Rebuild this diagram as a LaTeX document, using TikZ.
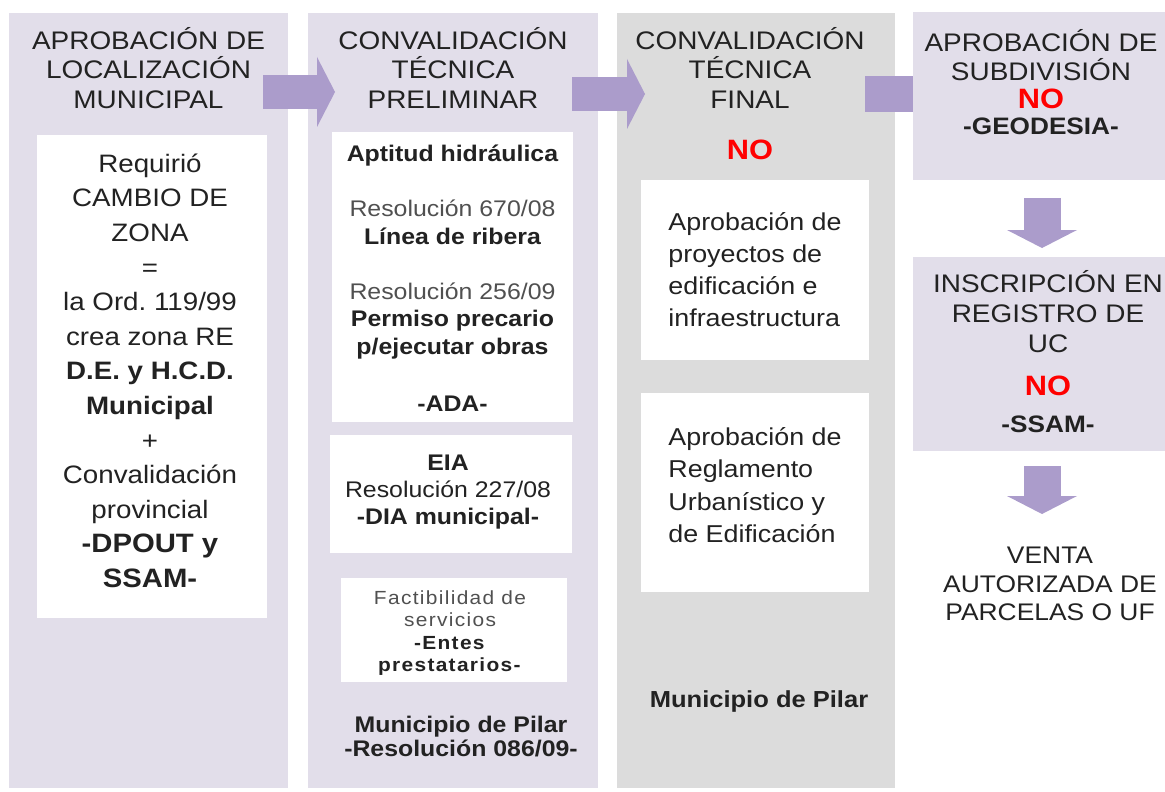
\documentclass[tikz,border=0pt]{standalone}
\usepackage{fontspec}
\setmainfont{Liberation Sans}[FakeStretch=1.1]
\usepackage{tikz}
\usetikzlibrary{arrows.meta,positioning}
\frenchspacing
\definecolor{stagelilac}{HTML}{E2DEEA}
\definecolor{stagegray}{HTML}{DCDCDC}
\definecolor{flowlilac}{HTML}{AB9CCB}
\definecolor{inkdark}{HTML}{222222}
\definecolor{inkgray}{HTML}{505050}
\definecolor{nored}{HTML}{FF0000}
\tikzset{
  stagebox/.style={
    rectangle,
    fill=stagelilac,
    anchor=north west,
    inner sep=0pt,
    outer sep=0pt
  },
  cardbox/.style={
    rectangle,
    fill=white,
    anchor=north west,
    inner sep=0pt,
    outer sep=0pt
  },
  headtext/.style={
    inner sep=0pt,
    align=center,
    text=inkdark,
    font=\fontsize{12.7}{14.75}\selectfont
  },
  bodytext/.style={
    inner sep=0pt,
    align=center,
    text=inkdark,
    font=\fontsize{12.6}{17.3}\selectfont
  },
  notetext/.style={
    inner sep=0pt,
    align=center,
    text=inkdark,
    font=\fontsize{11.3}{13.75}\selectfont
  },
  finetext/.style={
    inner sep=0pt,
    align=center,
    text=inkdark,
    font=\fontsize{9.5}{11.3}\selectfont\addfontfeature{LetterSpace=7}
  },
  verdict/.style={
    inner sep=0pt,
    text=nored,
    font=\fontsize{14}{16}\selectfont\bfseries
  },
  flowarrow/.style={-{Triangle[width=35pt,length=9pt,line width=0pt]},line width=17pt,draw=flowlilac},
  flowshaft/.style={line width=18pt,draw=flowlilac}
}

\begin{document}
\begin{tikzpicture}[x=0.5pt,y=-0.5pt]
  \useasboundingbox (0,0) rectangle (1165,791);

  % stage columns
  \node[stagebox,minimum width=139.5pt,minimum height=387.5pt] (c1) at (9,13) {};
  \node[stagebox,minimum width=145pt,minimum height=387.5pt] (c2) at (308,13) {};
  \node[stagebox,fill=stagegray,minimum width=139pt,minimum height=387.5pt] (c3) at (617,13) {};

  \node[headtext,below=7pt of c1.north] (t1) {APROBACIÓN DE\\LOCALIZACIÓN\\MUNICIPAL};
  \node[headtext,below=7pt of c2.north] (t2) {CONVALIDACIÓN\\TÉCNICA\\PRELIMINAR};
  \node[headtext,below=7pt of c3.north,xshift=-3pt] (t3) {CONVALIDACIÓN\\TÉCNICA\\FINAL};

  % column 1
  \node[cardbox,minimum width=115pt,minimum height=241.5pt] (k1) at (37,135) {};
  \node[bodytext,below=9.2pt of k1.north,xshift=-1pt] (k1txt) {Requirió\\CAMBIO DE\\ZONA\\=\\la Ord. 119/99\\crea zona RE\\
    \textbf{D.E. y H.C.D.}\\\textbf{Municipal}\\+\\Convalidación\\provincial\\
    {\fontsize{13.3}{17.3}\selectfont\bfseries -DPOUT y}\\{\fontsize{13.3}{17.3}\selectfont\bfseries SSAM-}};

  % column 2
  \node[cardbox,minimum width=120.5pt,minimum height=145pt] (k2) at (332,132) {};
  \node[cardbox,minimum width=121pt,minimum height=59pt] (k3) at (330,435) {};
  \node[cardbox,minimum width=113pt,minimum height=52pt] (k4) at (341,578) {};
  \node[notetext,below=6.5pt of k2.north] (k2txt) {\textbf{Aptitud hidráulica}\\[13.75pt]
    \textcolor{inkgray}{Resolución 670/08}\\\textbf{Línea de ribera}\\[13.75pt]
    \textcolor{inkgray}{Resolución 256/09}\\\textbf{Permiso precario}\\\textbf{p/ejecutar obras}\\[15pt]
    \textbf{-ADA-}};
  \node[notetext,below=10pt of k3.north,xshift=-1.5pt,font=\fontsize{11.3}{13.5}\selectfont] (k3txt)
    {\textbf{EIA}\\Resolución 227/08\\\textbf{-DIA municipal-}};
  \node[finetext,below=6pt of k4.north,xshift=-2pt] (k4txt)
    {\textcolor{inkgray}{Factibilidad de}\\\textcolor{inkgray}{servicios}\\\textbf{-Entes}\\\textbf{prestatarios-}};
  \node[notetext,above=15.5pt of c2.south,xshift=4pt,font=\fontsize{11.3}{12}\selectfont\bfseries] (m2)
    {Municipio de Pilar\\-Resolución 086/09-};

  % column 3
  \node[verdict,below=15.5pt of t3] (no3) {NO};
  \node[cardbox,minimum width=114pt,minimum height=90pt] (k5) at (641,180) {};
  \node[cardbox,minimum width=114pt,minimum height=99.5pt] (k6) at (641,393) {};
  \node[bodytext,align=left,below=16pt of k5.north,font=\fontsize{12.2}{16}\selectfont] (k5txt)
    {Aprobación de\\proyectos de\\edificación e\\infraestructura};
  \node[bodytext,align=left,below=17pt of k6.north,font=\fontsize{12.2}{16.2}\selectfont] (k6txt)
    {Aprobación de\\Reglamento\\Urbanístico y\\de Edificación};
  \node[notetext,above=37.5pt of c3.south,xshift=1.5pt,font=\fontsize{11.6}{13}\selectfont\bfseries] (m3)
    {Municipio de Pilar};

  % column 4
  \node[stagebox,minimum width=126pt,minimum height=84pt] (s1) at (913,12) {};
  \node[stagebox,minimum width=126pt,minimum height=97pt] (s2) at (913,257) {};
  \draw[flowshaft] ([shift={(-15pt,-40.5pt)}]c3.north east) -- ([yshift=-41pt]s1.north west);
  \node[headtext,below=8.5pt of s1.north,xshift=1pt] (t4) {APROBACIÓN DE\\SUBDIVISIÓN\\[-1pt]
    {\fontsize{14}{16}\selectfont\bfseries\color{nored}NO}\\[-1.5pt]
    {\fontsize{11.9}{14}\selectfont\bfseries -GEODESIA-}};
  \node[headtext,below=6.5pt of s2.north,xshift=4.5pt,font=\fontsize{12.7}{15}\selectfont] (t5)
    {INSCRIPCIÓN EN\\REGISTRO DE\\UC\\[6.5pt]
    {\fontsize{14}{16}\selectfont\bfseries\color{nored}NO}\\[3.5pt]
    {\fontsize{11.9}{14}\selectfont\bfseries -SSAM-}};
  \node[headtext,below=48pt of s2,xshift=5.5pt,font=\fontsize{12}{14.25}\selectfont] (v)
    {VENTA\\AUTORIZADA DE\\PARCELAS O UF};
  \coordinate (vtop) at (s2.south |- v.north);

  % arrows
  \draw[flowarrow] ([shift={(-12.5pt,-39.5pt)}]c1.north east) -- ([shift={(13.5pt,-39.5pt)}]c2.north west);
  \draw[flowarrow] ([shift={(-13pt,-40.5pt)}]c2.north east) -- ([shift={(14pt,-40.5pt)}]c3.north west);
  \draw[flowarrow,line width=18.5pt] ([shift={(1.5pt,-9pt)}]s1.south) -- ([shift={(1.5pt,4.5pt)}]s2.north);
  \draw[flowarrow,line width=18.5pt] ([shift={(1.5pt,-7.5pt)}]s2.south) -- ([shift={(1.5pt,16.5pt)}]vtop);
\end{tikzpicture}
\end{document}
